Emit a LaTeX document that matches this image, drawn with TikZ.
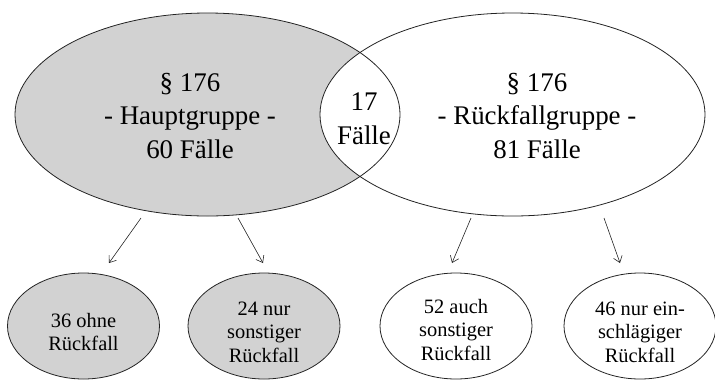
\documentclass[tikz,border=0pt]{standalone}
\usepackage{fontspec}
\setmainfont{Liberation Serif}
\usetikzlibrary{shapes.geometric,arrows.meta}
\definecolor{fillgray}{RGB}{210,210,210}
\definecolor{linecol}{RGB}{35,35,35}
\begin{document}
\begin{tikzpicture}[x=1bp,y=-1bp,
  big/.style={ellipse, minimum width=385bp, minimum height=203bp, inner sep=0pt},
  bigline/.style={big, draw=linecol, line width=0.8pt},
  small/.style={ellipse, draw=linecol, line width=0.8pt, minimum width=152bp, minimum height=106bp, inner sep=0pt},
  smalltext/.style={align=center, inner sep=0pt, font=\fontsize{20.5}{23.5}\selectfont},
  bigtext/.style={align=center, font=\fontsize{27}{34}\selectfont, inner sep=0pt},
  arr/.style={draw=linecol, line width=0.6pt, -{Straight Barb[length=6bp,width=9bp]}}]
\useasboundingbox (0,0) rectangle (715,381);
% big ellipses
\node[big, fill=fillgray] (L) at (207.5,114.5) {};
\node[big, fill=white] (R) at (512.5,114.5) {};
\node[bigline] (Lo) at (L.center) {};
\node[bigline] (Ro) at (R.center) {};
% texts in big ellipses
\node[bigtext] (Ltext) at (190,116) {\S\ 176\\- Hauptgruppe -\\60 Fälle};
\node[bigtext] (Mtext) at (364,119) {17\\Fälle};
\node[bigtext] (Rtext) at (537,116) {\S\ 176\\- Rückfallgruppe -\\81 Fälle};
% small ellipses
\node[small, fill=fillgray] (E1) at (83.5,326) {};
\node[small, fill=fillgray] (E2) at (264,326) {};
\node[small, fill=white] (E3) at (456,326) {};
\node[small, fill=white] (E4) at (640,326) {};
\node[smalltext] (E1t) at ([yshift=-6bp]E1.center) {36 ohne\\Rückfall};
\node[smalltext] (E2t) at ([yshift=-6bp]E2.center) {24 nur\\sonstiger\\Rückfall};
\node[smalltext] (E3t) at ([yshift=-4bp]E3.center) {52 auch\\sonstiger\\Rückfall};
\node[smalltext] (E4t) at ([yshift=-6bp]E4.center) {46 nur ein-\\schlägiger\\Rückfall};
% arrows
\coordinate (a1s) at (141,218); \coordinate (a1e) at (109,263);
\coordinate (a2s) at (238,218); \coordinate (a2e) at (263,263);
\coordinate (a3s) at (471,218); \coordinate (a3e) at (452,263);
\coordinate (a4s) at (604,218); \coordinate (a4e) at (620,263);
\draw[arr] (a1s) -- (a1e);
\draw[arr] (a2s) -- (a2e);
\draw[arr] (a3s) -- (a3e);
\draw[arr] (a4s) -- (a4e);
\end{tikzpicture}
\end{document}
